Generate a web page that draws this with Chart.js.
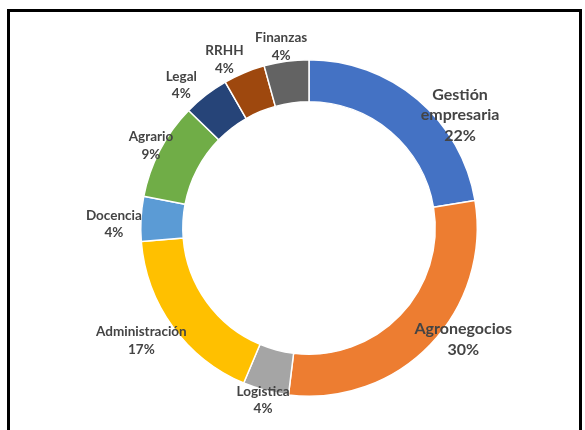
<!DOCTYPE html>
<html>
<head>
<meta charset="utf-8">
<script src="https://cdn.jsdelivr.net/npm/chart.js@4"></script>
<style>
html,body{margin:0;padding:0;background:#fff;}
#wrap{position:relative;width:585px;height:430px;overflow:hidden;}
#frame{position:absolute;left:7px;top:9px;width:569px;height:440px;border:3px solid #000;border-bottom:none;}
canvas{position:absolute;left:0;top:0;}
</style>
</head>
<body>
<div id="wrap">
<div id="frame"></div>
<canvas id="c" width="585" height="430"></canvas>
</div>
<script>
const categories = ["Gestión empresaria","Agronegocios","Logistica","Administración","Docencia","Agrario","Legal","RRHH","Finanzas"];
const labelLines = [["Gestión","empresaria"],["Agronegocios"],["Logistica"],["Administración"],["Docencia"],["Agrario"],["Legal"],["RRHH"],["Finanzas"]];
const values = [22.4, 29.6, 4.4, 17.4, 4.3, 9.3, 4.4, 4.0, 4.3];
const colors = ["#4472C4","#ED7D31","#A5A5A5","#FFC000","#5B9BD5","#70AD47","#264478","#9E480E","#636363"];

// label placement (style): angle shift in degrees from slice middle, radius factor of outer radius, font size
const labelStyle = [
  {dA:13, rf:1.12, size:16},
  {dA:-8, rf:1.13, size:16},
  {dA:0, rf:1.06, size:13.5},
  {dA:2, rf:1.20, size:13.5},
  {dA:-2, rf:1.16, size:13.5},
  {dA:0, rf:1.06, size:13.5},
  {dA:-4, rf:1.14, size:13.5},
  {dA:-4, rf:1.12, size:13.5},
  {dA:-1, rf:1.09, size:13.5}
];

const total = values.reduce((a,b)=>a+b,0);

const labelPlugin = {
  id:'outLabels',
  afterDatasetsDraw(chart){
    const ctx = chart.ctx;
    const meta = chart.getDatasetMeta(0);
    meta.data.forEach((arc,i)=>{
      const p = arc.getProps(['x','y','startAngle','endAngle','outerRadius'],true);
      const st = labelStyle[i];
      const mid = (p.startAngle+p.endAngle)/2 + st.dA*Math.PI/180;
      const r = p.outerRadius*st.rf;
      const cx = p.x + Math.cos(mid)*r;
      const cy = p.y + Math.sin(mid)*r;
      const lines = labelLines[i].concat([Math.round(values[i]/total*100)+"%"]);
      const lh = st.size*1.3;
      ctx.save();
      ctx.fillStyle = "#444444";
      ctx.font = "bold "+st.size+"px Lato";
      ctx.textAlign = "center";
      ctx.textBaseline = "middle";
      const y0 = cy - (lines.length-1)*lh/2;
      lines.forEach((t,k)=>ctx.fillText(t,cx,y0+k*lh));
      ctx.restore();
    });
  }
};

new Chart(document.getElementById('c'),{
  type:'doughnut',
  data:{labels:categories,datasets:[{data:values,backgroundColor:colors,borderColor:'#ffffff',borderWidth:1.5}]},
  options:{
    responsive:false,
    animation:false,
    cutout:'75%',
    layout:{padding:{top:59,bottom:33,left:140,right:107}},
    plugins:{legend:{display:false},tooltip:{enabled:false}}
  },
  plugins:[labelPlugin]
});
</script>
</body>
</html>
